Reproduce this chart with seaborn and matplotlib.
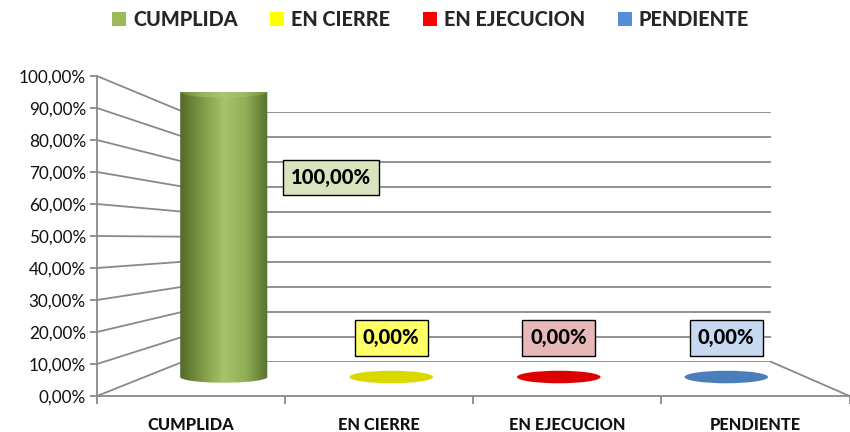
import os
import numpy as np
import pandas as pd
import matplotlib
matplotlib.use("Agg")
import matplotlib.pyplot as plt
import seaborn as sns
from matplotlib import font_manager
from matplotlib.font_manager import FontProperties
from matplotlib.patches import Patch, Ellipse, PathPatch
from matplotlib.path import Path
from matplotlib.lines import Line2D
from matplotlib.colors import LinearSegmentedColormap

# ---------------- data ----------------
categories = ["CUMPLIDA", "EN CIERRE", "EN EJECUCION", "PENDIENTE"]
values = [1.0, 0.0, 0.0, 0.0]
value_labels = ["100,00%", "0,00%", "0,00%", "0,00%"]
ytick_values = [0.0, 0.1, 0.2, 0.3, 0.4, 0.5, 0.6, 0.7, 0.8, 0.9, 1.0]
ytick_labels = ["0,00%", "10,00%", "20,00%", "30,00%", "40,00%", "50,00%",
                "60,00%", "70,00%", "80,00%", "90,00%", "100,00%"]

# ---------------- styles ----------------
legend_colors = ["#9BBB59", "#FFFF00", "#FF0000", "#558ED5"]
disc_colors = ["#7A9640", "#D9D900", "#DD0000", "#4A7EBB"]
label_fill = ["#D7E4BD", "#FFFF66", "#E6B9B8", "#C6D9F1"]
grid_color = "#898989"

sns.set_theme(style="white")
plt.rcParams["font.family"] = ["Lato", "DejaVu Sans"]

# locate a heavy/bold font file
files = {os.path.basename(f.fname).lower(): f.fname
         for f in font_manager.fontManager.ttflist}
bold_file = None
for name in ["lato-heavy.ttf", "lato-black.ttf", "lato-bold.ttf",
             "opensans-bold.ttf", "liberationsans-bold.ttf",
             "dejavusans-bold.ttf"]:
    if name in files:
        bold_file = files[name]
        break


def bold_fp(size):
    if bold_file:
        return FontProperties(fname=bold_file, size=size)
    return FontProperties(family="DejaVu Sans", weight="bold", size=size)


is_lato = bold_file is not None and "lato" in os.path.basename(bold_file).lower()
scale = 1.0 if is_lato else 0.9
sz_tick = 12.3
sz_cat = 11.8 * scale
sz_val = 14.5 * scale
sz_leg = 14.3 * scale

W, H = 850, 432
fig = plt.figure(figsize=(8.5, 4.32), dpi=100)


def box(x0, y0, x1, y1):
    """pixel box (origin top-left) -> figure fraction rect"""
    return [x0 / W, 1 - y1 / H, (x1 - x0) / W, (y1 - y0) / H]


ax_back = fig.add_axes(box(183, 111.7, 770.7, 361.7))
ax_front = fig.add_axes(box(97, 76, 849.5, 396))
ax_mid = fig.add_axes(box(140, 92, 810, 405.5))
ax_back.set_zorder(0)
ax_front.set_zorder(1)
ax_mid.set_zorder(5)

# ---- back wall: gridlines ----
ax_back.set_xlim(-0.5, 3.5)
ax_back.set_ylim(0, 1)
ax_back.set_xticks([])
ax_back.set_yticks(ytick_values)
ax_back.tick_params(length=0, labelleft=False)
ax_back.yaxis.grid(True, color=grid_color, lw=1.3)
for s in ax_back.spines.values():
    s.set_visible(False)
ax_back.patch.set_alpha(0)

# ---- front plane: axes, ticks, labels ----
ax_front.set_xlim(-0.5, 3.5)
ax_front.set_ylim(0, 1)
ax_front.patch.set_alpha(0)
for side in ["top", "right"]:
    ax_front.spines[side].set_visible(False)
for side in ["left", "bottom"]:
    ax_front.spines[side].set_color(grid_color)
    ax_front.spines[side].set_linewidth(1.3)
ax_front.set_yticks(ytick_values)
ax_front.set_yticklabels(ytick_labels)
ax_front.tick_params(axis="y", direction="out", length=5, width=1.3,
                     color=grid_color, labelsize=sz_tick, pad=3,
                     labelcolor="#111111", left=True)
ax_front.set_xticks(range(len(categories)))
ax_front.set_xticklabels(categories, fontproperties=bold_fp(sz_cat),
                         color="#111111")
ax_front.tick_params(axis="x", which="major", length=0, pad=15)
ax_front.set_xticks(np.arange(-0.5, len(categories), 1.0), minor=True)
ax_front.tick_params(axis="x", which="minor", direction="out", length=6,
                     width=1.3, color=grid_color, bottom=True)
ax_front.grid(False)

# ---- perspective connectors (front plane -> back wall) ----
to_fig = fig.transFigure.inverted()


def connect(xf, xb, v):
    p0 = to_fig.transform(ax_front.transData.transform((xf, v)))
    p1 = to_fig.transform(ax_back.transData.transform((xb, v)))
    fig.add_artist(Line2D([p0[0], p1[0]], [p0[1], p1[1]],
                          transform=fig.transFigure, color=grid_color,
                          lw=1.3, zorder=2))


for v in ytick_values:
    connect(-0.5, -0.5, v)
connect(3.5, 3.5, 0.0)

# ---- bars (mid-depth plane) ----
df = pd.DataFrame({"estado": categories, "valor": values})
sns.barplot(data=df, x="estado", y="valor", hue="estado", order=categories,
            hue_order=categories, palette=legend_colors, width=0.52,
            ax=ax_mid, legend=False)

body_cmap = LinearSegmentedColormap.from_list(
    "cyl", ["#55692B", "#7E9A45", "#A6C46B", "#8FAE56", "#5A7030"])
top_cmap = LinearSegmentedColormap.from_list(
    "cyltop", ["#6A8436", "#94B35A", "#A9C66E", "#9AB960", "#6F8A39"])
grad = np.linspace(0, 1, 256).reshape(1, -1)
e = 0.02  # ellipse half-height (axes units)

for p in list(ax_mid.patches):
    x0, w, h = p.get_x(), p.get_width(), p.get_height()
    cx = x0 + w / 2
    i = int(round(cx))
    a = w / 2
    p.set_visible(False)
    if h > 0:
        t1 = np.linspace(np.pi, 2 * np.pi, 60)
        t2 = np.linspace(0, np.pi, 60)
        xs = np.concatenate([cx + a * np.cos(t1), cx + a * np.cos(t2)])
        ys = np.concatenate([e * np.sin(t1), h + e * np.sin(t2)])
        verts = np.column_stack([xs, ys])
        verts = np.vstack([verts, verts[:1]])
        codes = [Path.MOVETO] + [Path.LINETO] * (len(verts) - 2) + [Path.CLOSEPOLY]
        clip = PathPatch(Path(verts, codes), facecolor="none",
                         edgecolor="none", transform=ax_mid.transData)
        ax_mid.add_patch(clip)
        im = ax_mid.imshow(grad, cmap=body_cmap, aspect="auto",
                           extent=(x0, x0 + w, -e, h + e), zorder=2)
        im.set_clip_path(clip)
        top = Ellipse((cx, h), w, 2 * e, facecolor="none", edgecolor="none",
                      transform=ax_mid.transData)
        ax_mid.add_patch(top)
        im2 = ax_mid.imshow(grad, cmap=top_cmap, aspect="auto",
                            extent=(x0, x0 + w, h - e, h + e), zorder=3)
        im2.set_clip_path(top)
        lx, ly = cx + 0.64, h * 0.70
    else:
        ax_mid.add_patch(Ellipse((cx, 0), w * 0.96, 2.2 * e,
                                 facecolor=disc_colors[i], edgecolor="none",
                                 zorder=2))
        lx, ly = cx, 0.137
    ax_mid.text(lx, ly, value_labels[i], ha="center", va="center",
                fontproperties=bold_fp(sz_val), color="black", zorder=6,
                bbox=dict(boxstyle="square,pad=0.4", facecolor=label_fill[i],
                          edgecolor="black", lw=1.0))

ax_mid.set_xlim(-0.5, 3.5)
ax_mid.set_ylim(-0.1, 1)
ax_mid.axis("off")

# ---- legend ----
handles = [Patch(facecolor=c, edgecolor="none") for c in legend_colors]
fig.legend(handles, categories, loc="center", bbox_to_anchor=(430.5 / W, 1 - 19 / H),
           ncol=4, frameon=False, handlelength=0.7, handleheight=0.7,
           handletextpad=0.35, columnspacing=1.65, prop=bold_fp(sz_leg))

fig.savefig("out.png", dpi=100)
